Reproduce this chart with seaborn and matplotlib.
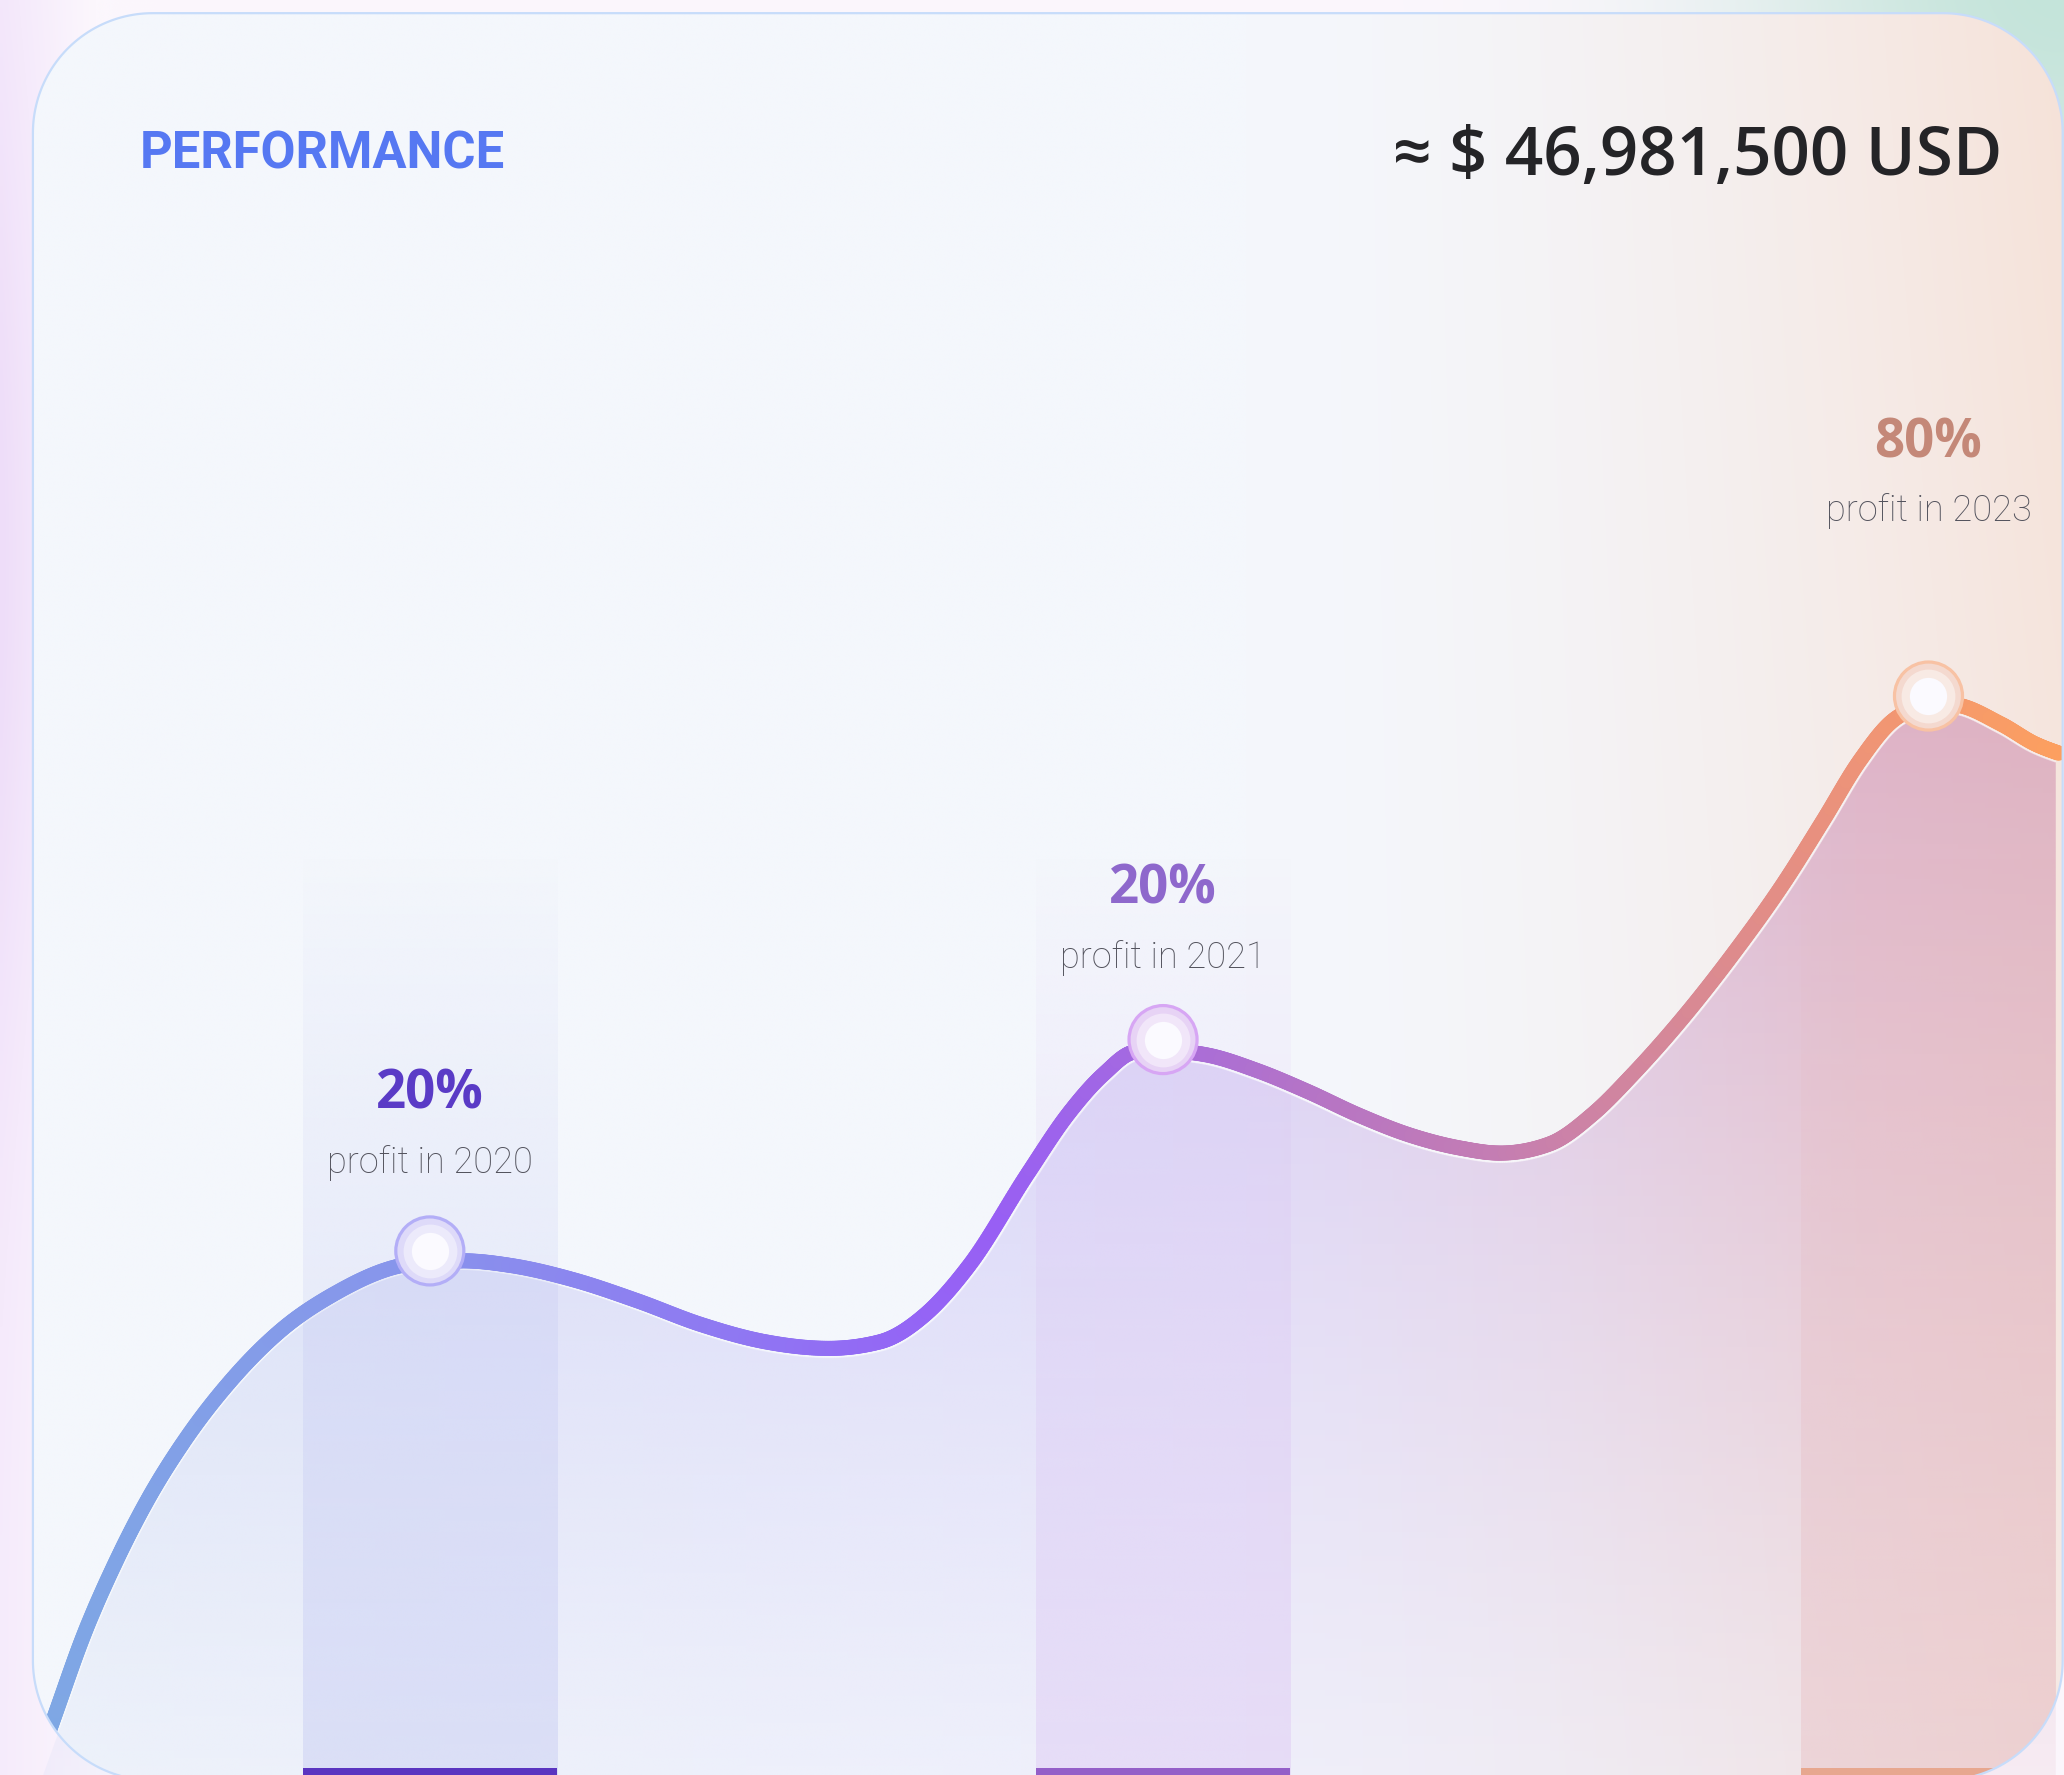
import numpy as np
import pandas as pd
import matplotlib
matplotlib.use("Agg")
import matplotlib.pyplot as plt
import seaborn as sns
from matplotlib.colors import LinearSegmentedColormap, to_rgb
from matplotlib.patches import PathPatch
from matplotlib.collections import LineCollection
from matplotlib.path import Path

# ---------------- data ----------------
period = [0.0, 1.01, 2.49, 4.13, 5.78, 7.42, 9.89, 12.35, 14.82, 18.11,
          19.59, 21.2, 23.55, 26.69, 29.84, 32.98, 36.13, 39.27, 41.79, 43.99,
          46.19, 49.07, 51.08, 52.84, 54.35, 55.75, 57.86, 60.39, 62.9, 65.42,
          67.92, 70.45, 72.37, 74.84, 76.97, 78.95, 81.42, 83.88, 86.35, 88.32,
          90.13, 91.77, 93.57, 94.6, 97.11, 98.78, 99.94]
index_value = [-0.1, 4.22, 10.56, 16.32, 21.23, 25.26, 30.17, 33.92, 36.5, 38.67,
               38.96, 39.05, 38.7, 37.6, 36.0, 34.2, 32.9, 32.4, 32.9, 34.93,
               38.71, 45.66, 50.22, 53.26, 54.9, 55.0, 54.7, 53.5, 51.9, 50.1,
               48.6, 47.6, 47.23, 47.94, 50.22, 53.26, 57.56, 62.38, 67.7, 72.51,
               77.06, 80.1, 81.2, 81.3, 79.8, 78.3, 77.6]
years = ["2020", "2021", "2023"]
year_pos = [19.58, 55.75, 93.51]
year_value = [39.8, 55.85, 81.94]
profit_pct = ["20%", "20%", "80%"]
title_text = "PERFORMANCE"
total_text = "\u2248 $ 46,981,500 USD"

# ---------------- style ----------------
sns.set_theme(style="white")
plt.rcParams['font.family'] = ['Roboto', 'DejaVu Sans']

SW, SH = 1568, 1348          # layout units (equal scale in x and y)
fig = plt.figure(figsize=(20.64, 17.75), dpi=100)

bg = fig.add_axes([0, 0, 1, 1], zorder=0)
bg.set_xlim(0, SW)
bg.set_ylim(SH, 0)
bg.axis('off')

gx, gy = np.meshgrid(np.linspace(0, SW, 420), np.linspace(0, SH, 360))
base = np.array(to_rgb('#FCF7FD'))
lav = np.array(to_rgb('#EEDDF9'))
teal = np.array(to_rgb('#C4E4DA'))
w_l = (np.clip(1 - gx / 70, 0, 1) * (0.45 + 0.55 * np.exp(-((gy - 420) / 380) ** 2)))[..., None]
img = base * (1 - w_l) + lav * w_l
d = np.hypot(gx - SW, gy + 20)
w_t = np.exp(-(d / 250) ** 2)[..., None]
img = img * (1 - w_t) + teal * w_t
bg.imshow(img, extent=(0, SW, SH, 0), aspect='auto', interpolation='bilinear', zorder=0)


def rounded_rect(x0, y0, x1, y1, r, n=48):
    pts = []
    corners = [(x1 - r, y0 + r, -90, 0), (x1 - r, y1 - r, 0, 90),
               (x0 + r, y1 - r, 90, 180), (x0 + r, y0 + r, 180, 270)]
    for cxr, cyr, a0, a1 in corners:
        a = np.radians(np.linspace(a0, a1, n))
        pts.append(np.column_stack([cxr + r * np.cos(a), cyr + r * np.sin(a)]))
    pts = np.vstack(pts)
    pts = np.vstack([pts, pts[:1]])
    return Path(pts, closed=True)


card_path = rounded_rect(25, 10, 1567, 1352, 91)
card = PathPatch(card_path, facecolor='none', edgecolor='none')
bg.add_patch(card)
cool = np.array(to_rgb('#F4F7FC'))
warm = np.array(to_rgb('#F6E2D8'))
w = (np.clip((gx - 950) / 620, 0, 1) ** 1.6 * (1 - 0.35 * gy / SH))[..., None]
cimg = cool * (1 - w) + warm * w
cim = bg.imshow(cimg, extent=(0, SW, SH, 0), aspect='auto', interpolation='bilinear', zorder=1)
cim.set_clip_path(card)

border = PathPatch(card_path, facecolor='none', edgecolor='#C7DCFA', lw=1.6,
                   transform=bg.transData, zorder=20)
fig.add_artist(border)

bg.text(106, 127.6, title_text, ha='left', va='baseline', fontsize=36.5,
        fontweight='bold', color='#5678F2', family=['Roboto', 'DejaVu Sans'], zorder=5)
bg.text(1521, 133, total_text, ha='right', va='baseline', fontsize=48.5,
        fontweight='semibold', color='#242427', family=['Open Sans', 'DejaVu Sans'], zorder=5)

# ---------------- main data axes ----------------
ax = fig.add_axes([0, 0, 1, 1], zorder=1)
ax.set_facecolor('none')
ax.axis('off')
XU, YU = 15.4, 10.0           # layout px per data unit
XL = (-25 / XU, (SW - 25) / XU)
YL = (0, SH / YU)


def monotone_x(xs, ys, n=30):
    xs = np.asarray(xs, float)
    ys = np.asarray(ys, float)
    h = np.diff(xs)
    s = np.diff(ys) / h
    m = np.zeros_like(xs)
    for i in range(1, len(xs) - 1):
        s0, s1 = s[i - 1], s[i]
        p = (s0 * h[i] + s1 * h[i - 1]) / (h[i - 1] + h[i])
        m[i] = (np.sign(s0) + np.sign(s1)) * min(abs(s0), abs(s1), 0.5 * abs(p))
    m[0] = (3 * s[0] - m[1]) / 2
    m[-1] = (3 * s[-1] - m[-2]) / 2
    ox, oy = [], []
    for i in range(len(xs) - 1):
        t = np.linspace(0, 1, n, endpoint=False)
        h00 = 2 * t ** 3 - 3 * t ** 2 + 1
        h10 = t ** 3 - 2 * t ** 2 + t
        h01 = -2 * t ** 3 + 3 * t ** 2
        h11 = t ** 3 - t ** 2
        ox.append(xs[i] + t * h[i])
        oy.append(h00 * ys[i] + h10 * h[i] * m[i] + h01 * ys[i + 1] + h11 * h[i] * m[i + 1])
    ox.append([xs[-1]])
    oy.append([ys[-1]])
    return np.concatenate(ox), np.concatenate(oy)


cx, cy = monotone_x(period, index_value)

# offset copy of the curve (fill edge sits just below the stroke)
PX, PY = cx * XU, cy * YU
tx, ty = np.gradient(PX), np.gradient(PY)
nn = np.hypot(tx, ty)
off = 7.0
ox_ = (PX + off * ty / nn) / XU
oy_ = (PY - off * tx / nn) / YU

# gradient area fill under the curve
fill_cmap = LinearSegmentedColormap.from_list(
    'fill', [(0, '#C6D3F2'), (0.2, '#C9CDF5'), (0.45, '#CEC8F7'), (0.6, '#D2C4F3'),
             (0.75, '#D8BCE0'), (0.9, '#DCAEC5'), (1.0, '#DDADBF')])
fx = np.linspace(XL[0], XL[1], 600)
fy = np.linspace(0, 90, 300)
FX, FY = np.meshgrid(fx, fy)
cols = fill_cmap(np.clip(FX / 100, 0, 1))
cols[..., 3] = np.clip(0.15 + 0.8 * (FY / 85) ** 1.1, 0, 0.92)
fim = ax.imshow(cols, extent=(XL[0], XL[1], 0, 90), origin='lower', aspect='auto',
                interpolation='bilinear', zorder=1)
verts = np.vstack([np.column_stack([ox_, oy_]), [[ox_[-1], 0], [cx[0], 0], [cx[0], cy[0]]]])
fim.set_clip_path(Path(verts, closed=True), ax.transData)

# highlight bands for the labelled years
band_w = 12.53
band_top = 70.0
band_cols = ['#B4BAF0', '#D6B6F2', '#E6B0B4']
bar_cols = ['#5A34C0', '#945FC8', '#E7A78F']
for xc, col in zip(year_pos, band_cols):
    by = np.linspace(0, band_top, 200)
    a = 0.32 * np.clip((band_top - by) / band_top, 0, 1) ** 0.8
    arr = np.zeros((200, 2, 4))
    arr[..., :3] = to_rgb(col)
    arr[..., 3] = a[:, None]
    bim = ax.imshow(arr, extent=(xc - band_w / 2, xc + band_w / 2, 0, band_top),
                    origin='lower', aspect='auto', interpolation='bilinear', zorder=2)
    bim.set_clip_path(card)
bars = ax.bar(year_pos, 0.55, width=band_w, bottom=0, color=bar_cols, zorder=3, linewidth=0)
for b in bars:
    b.set_clip_path(card)

# thin white edge of the fill
opts = np.column_stack([ox_, oy_])
osegs = np.stack([opts[:-1], opts[1:]], axis=1)
omid = (ox_[:-1] + ox_[1:]) / 2
wa = np.clip((omid - 22) / 35, 0, 1) * 0.6
wcols = np.zeros((len(omid), 4))
wcols[:, :3] = 1.0
wcols[:, 3] = wa
wl = LineCollection(osegs, colors=wcols, linewidths=1.1, zorder=3.5)
ax.add_collection(wl)
wl.set_clip_path(card)

# gradient line
line_cmap = LinearSegmentedColormap.from_list(
    'line', [(0, '#7EA8E4'), (0.196, '#8893EC'), (0.347, '#8F78F2'), (0.438, '#9465F5'),
             (0.477, '#985FF4'), (0.557, '#A66BDD'), (0.633, '#B574C6'), (0.724, '#C47DB3'),
             (0.802, '#D4879B'), (0.867, '#E48E84'), (0.919, '#F19673'), (1.0, '#FC9F60')])
pts = np.column_stack([cx, cy])
segs = np.stack([pts[:-1], pts[1:]], axis=1)
mid = (cx[:-1] + cx[1:]) / 2
lc = LineCollection(segs, colors=line_cmap(np.clip(mid / 100, 0, 1)), linewidths=10.8,
                    capstyle='round', joinstyle='round', zorder=4)
ax.add_collection(lc)
lc.set_clip_path(card)

# markers
mk = pd.DataFrame({'x': year_pos, 'y': year_value, 'year': years})
ring_fill = ['#DEDAF9', '#E7D3F5', '#F4D9CF']
ring_edge = ['#B3AEF7', '#D7A6F4', '#F8C2A4']
sns.scatterplot(data=mk, x='x', y='y', hue='year', palette=dict(zip(years, ring_fill)),
                s=2400, edgecolor=ring_edge, linewidth=2.3, legend=False, ax=ax, zorder=6)
sns.scatterplot(data=mk, x='x', y='y', color='white', alpha=0.45, s=1500, linewidth=0,
                legend=False, ax=ax, zorder=7)
sns.scatterplot(data=mk, x='x', y='y', color='#FBFAFF', s=720, linewidth=0,
                legend=False, ax=ax, zorder=8)

# labels
pct_cols = ['#5A3BC6', '#8E68CC', '#C48878']
pct_lift = [102.9, 98.2, 171.6]
txt_lift = [55.9, 51.4, 126.0]
for x, y, pct, yr, c, o1, o2 in zip(year_pos, year_value, profit_pct, years, pct_cols, pct_lift, txt_lift):
    ax.annotate(pct, (x, y), xytext=(0, o1), textcoords='offset points', ha='center',
                va='baseline', fontsize=38, fontweight='bold', color=c,
                family=['Open Sans', 'DejaVu Sans'], zorder=9)
    ax.annotate(f"profit in {yr}", (x, y), xytext=(0, o2), textcoords='offset points',
                ha='center', va='baseline', fontsize=26, fontweight='light', color='#52525C',
                family=['Roboto', 'DejaVu Sans'], zorder=9)

ax.set_xlim(*XL)
ax.set_ylim(*YL)
ax.axis('off')

fig.savefig('out.png', dpi=100)
